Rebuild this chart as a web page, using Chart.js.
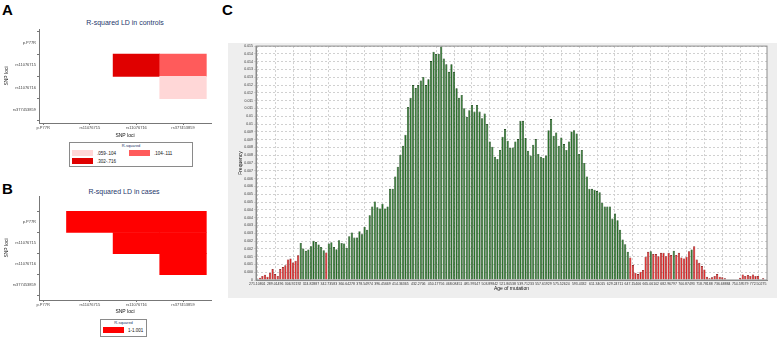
<!DOCTYPE html>
<html>
<head>
<meta charset="utf-8">
<script src="https://cdn.jsdelivr.net/npm/chart.js@4"></script>
<style>
  body { margin: 0; width: 777px; height: 337px; background: #fff; position: relative; overflow: hidden;
         font-family: Arial, "Liberation Sans", sans-serif; }
  .abs { position: absolute; white-space: nowrap; }
  .letra { font-weight: bold; font-size: 15px; line-height: 15px; color: #000; }
  .titulo { font-size: 7px; line-height: 7px; color: #26386b; text-align: center; width: 180px; }
  .caixa { border: 1px solid #8a8a8a; box-sizing: border-box; background: #fff; }
  .rq { font-size: 4px; line-height: 4px; color: #26386b; text-align: center; }
  .item { font-size: 4.5px; line-height: 5px; color: #111; }
  #ageChart { background: #eeeeee; }
</style>
</head>
<body>

<div class="abs letra" style="left:2px; top:2px;">A</div>
<div class="abs letra" style="left:2px; top:181px;">B</div>
<div class="abs letra" style="left:222px; top:2px;">C</div>

<div class="abs titulo" style="left:35px; top:19px;">R-squared LD in controls</div>
<div class="abs titulo" style="left:34px; top:188px;">R-squared LD in cases</div>

<canvas id="ctrlChart" class="abs" style="left:0; top:0;" width="225" height="145"></canvas>
<canvas id="caseChart" class="abs" style="left:0; top:170px;" width="225" height="150"></canvas>
<canvas id="ageChart" class="abs" style="left:228px; top:43px;" width="549" height="255"></canvas>

<div id="legCtrl"></div>
<div id="legCase"></div>

<script>
// Locos SNP (mesma ordem nos dois eixos)
const snpLoci = ['p.P77R', 'rs11076715', 'rs11076716', 'rs377453859'];

// LD nos controles: linha, coluna e faixa de R-squared de cada célula
const ctrlRow = [1, 1, 2];
const ctrlCol = [2, 3, 3];
const ctrlBin = [2, 1, 0];
const ctrlBinLabels = ['.059-.104', '.104-.111', '.302-.716'];
const ctrlBinColors = ['#ffd7d7', '#ff5b5b', '#e00000'];

// LD nos casos
const caseRow = [0, 0, 0, 1, 1, 2];
const caseCol = [1, 2, 3, 2, 3, 3];
const caseBin = [0, 0, 0, 0, 0, 0];
const caseBinLabels = ['1-1.001'];
const caseBinColors = ['#ff0000'];

// Idade da mutação: rótulos visíveis (um a cada 7 classes)
const ageTicks = ['271.10801', '289.01496', '306.92192', '324.82887', '342.73583', '360.64278',
  '378.54974', '396.45669', '414.36365', '432.2706', '450.17756', '468.08451', '485.99147',
  '503.89842', '521.80538', '539.71233', '557.61929', '575.52624', '593.4332', '611.34015',
  '629.24711', '647.15406', '665.06102', '682.96797', '700.87493', '718.78188', '736.68884',
  '754.59579', '772.50275'];

// Frequência de cada classe (200 classes)
const ageFreq = [
  0.00004, 0.00015, 0.00026, 0.00034, 0.00021, 0.00047, 0.00070, 0.00038, 0.00026, 0.00070,
  0.00083, 0.00094, 0.00132, 0.00138, 0.00113, 0.00123, 0.00158, 0.00238, 0.00202, 0.00187,
  0.00196, 0.00217, 0.00251, 0.00244, 0.00228, 0.00212, 0.00191, 0.00177, 0.00234, 0.00242,
  0.00212, 0.00198, 0.00255, 0.00238, 0.00234, 0.00206, 0.00281, 0.00304, 0.00272, 0.00272,
  0.00313, 0.00293, 0.00340, 0.00323, 0.00415, 0.00472, 0.00504, 0.00466, 0.00459, 0.00489,
  0.00459, 0.00472, 0.00585, 0.00585, 0.00664, 0.00727, 0.00804, 0.00861, 0.00931, 0.01110,
  0.01168, 0.01250, 0.01231, 0.01250, 0.01280, 0.01302, 0.01250, 0.01287, 0.01404, 0.01463,
  0.01450, 0.01450, 0.01497, 0.01421, 0.01383, 0.01335, 0.01383, 0.01335, 0.01229, 0.01169,
  0.01187, 0.01102, 0.01046, 0.01089, 0.01123, 0.01080, 0.01123, 0.01080, 0.01038, 0.01067,
  0.01000, 0.00889, 0.00855, 0.00791, 0.00776, 0.00834, 0.00919, 0.00968, 0.00893, 0.00847,
  0.00850, 0.00889, 0.00904, 0.01021, 0.01021, 0.00910, 0.00829, 0.00798, 0.00868, 0.00904,
  0.00808, 0.00791, 0.00783, 0.00798, 0.00961, 0.01032, 0.00925, 0.00946, 0.00861, 0.00914,
  0.00872, 0.00834, 0.00889, 0.00953, 0.00961, 0.00940, 0.00808, 0.00834, 0.00751, 0.00664,
  0.00585, 0.00585, 0.00579, 0.00570, 0.00563, 0.00496, 0.00472, 0.00472, 0.00472, 0.00394,
  0.00426, 0.00383, 0.00323, 0.00260, 0.00230, 0.00181, 0.00145, 0.00096, 0.00047, 0.00038,
  0.00053, 0.00064, 0.00149, 0.00181, 0.00185, 0.00166, 0.00166, 0.00153, 0.00174, 0.00174,
  0.00153, 0.00174, 0.00160, 0.00187, 0.00160, 0.00174, 0.00145, 0.00138, 0.00149, 0.00185,
  0.00196, 0.00217, 0.00132, 0.00110, 0.00089, 0.00068, 0.00021, 0.00011, 0.00017, 0.00026,
  0.00038, 0.00021, 0.00017, 0.00011, 0, 0, 0, 0, 0.00004, 0.00015,
  0.00036, 0.00026, 0.00032, 0.00026, 0.00036, 0.00026, 0.00026, 0.00004, 0.00011, 0
];

// Classes destacadas em vermelho (intervalos de índices)
const redRanges = [[0, 16], [27, 27], [146, 153], [155, 162], [164, 169], [171, 199]];

const ageBins = ageFreq.map((_, i) => i);
const isRed = i => redRanges.some(r => i >= r[0] && i <= r[1]);

// Mapas de LD (barras flutuantes em eixos lineares)
function ldChart(id, rows, cols, bins, colors, opt) {
  const cells = rows.map((r, i) => ({ x: [cols[i] - 0.5, cols[i] + 0.5], y: r }));
  return new Chart(document.getElementById(id), {
    type: 'bar',
    data: {
      datasets: [{
        data: cells,
        backgroundColor: bins.map(b => colors[b]),
        borderWidth: 0,
        barPercentage: 1,
        categoryPercentage: 1
      }]
    },
    options: {
      indexAxis: 'y',
      responsive: false,
      animation: false,
      layout: { padding: { top: opt.top, right: 14, left: 0, bottom: 0 } },
      plugins: { legend: { display: false }, tooltip: { enabled: false } },
      scales: {
        x: {
          type: 'linear',
          position: 'bottom',
          min: -0.09,
          max: 3.6,
          afterFit: s => { s.height = opt.xh; },
          border: { color: '#777' },
          grid: { drawOnChartArea: false, tickLength: 2, color: '#777' },
          ticks: {
            stepSize: 1, includeBounds: false, autoSkip: false, maxRotation: 0, padding: 0.5,
            color: '#444', font: { size: 4 },
            callback: v => snpLoci[v] ?? null
          },
          title: { display: true, text: 'SNP loci', color: '#111', font: { size: 5 },
                   padding: { top: 0, bottom: opt.tb } }
        },
        y: {
          type: 'linear',
          reverse: true,
          min: opt.ymin,
          max: opt.ymax,
          afterFit: s => { s.width = 39; },
          border: { color: '#777' },
          grid: { drawOnChartArea: false, tickLength: 2, color: '#777' },
          ticks: {
            stepSize: 1, includeBounds: false, autoSkip: false, padding: 1,
            color: '#444', font: { size: 4 },
            callback: v => snpLoci[v] ?? null
          },
          title: { display: true, text: 'SNP loci', color: '#111', font: { size: 5 },
                   padding: { top: 4, bottom: 0 } }
        }
      }
    }
  });
}

ldChart('ctrlChart', ctrlRow, ctrlCol, ctrlBin, ctrlBinColors, { top: 29, xh: 22, tb: 6, ymin: -0.1, ymax: 3.07 });
ldChart('caseChart', caseRow, caseCol, caseBin, caseBinColors, { top: 26, xh: 20, tb: 5.3, ymin: -0.615, ymax: 3.08 });

// Legendas dos mapas
function legenda(el, box, labels, colors, slots) {
  let html = `<div class="abs caixa" style="left:${box[0]}px; top:${box[1]}px; width:${box[2]}px; height:${box[3]}px;"></div>`;
  html += `<div class="abs rq" style="left:${box[0]}px; top:${box[1] + 1.5}px; width:${box[2]}px;">R-squared</div>`;
  labels.forEach((t, i) => {
    const [x, y] = slots[i];
    html += `<div class="abs" style="left:${x}px; top:${y}px; width:21px; height:6px; background:${colors[i]};"></div>`;
    html += `<div class="abs item" style="left:${x + 25}px; top:${y + 0.5}px;">${t}</div>`;
  });
  document.getElementById(el).innerHTML = html;
}
legenda('legCtrl', [69, 142, 124, 25], ctrlBinLabels, ctrlBinColors, [[72, 150], [129, 150], [72, 158]]);
legenda('legCase', [100, 319, 47, 18], caseBinLabels, caseBinColors, [[103, 327]]);

// Fundo branco e moldura da área do gráfico
const moldura = {
  id: 'moldura',
  beforeDraw(chart) {
    const { ctx, chartArea: a } = chart;
    ctx.save();
    ctx.fillStyle = '#fff';
    ctx.fillRect(a.left, a.top, a.width, a.height);
    ctx.restore();
  },
  afterDraw(chart) {
    const { ctx, chartArea: a } = chart;
    ctx.save();
    ctx.strokeStyle = '#8c8c8c';
    ctx.lineWidth = 1;
    ctx.strokeRect(a.left, a.top, a.width, a.height);
    ctx.restore();
  }
};

// Histograma da idade da mutação
new Chart(document.getElementById('ageChart'), {
  type: 'bar',
  data: {
    labels: ageBins,
    datasets: [{
      data: ageFreq,
      backgroundColor: ageBins.map(i => isRed(i) ? '#dc1a1a' : '#1d6a1d'),
      borderColor: ageBins.map(i => isRed(i) ? '#7a0a0a' : '#0a340a'),
      borderWidth: 0.6,
      barPercentage: 0.85,
      categoryPercentage: 1
    }]
  },
  options: {
    responsive: false,
    animation: false,
    layout: { padding: { top: 2, right: 10, left: 0, bottom: 0 } },
    plugins: { legend: { display: false }, tooltip: { enabled: false } },
    scales: {
      x: {
        afterFit: s => { s.height = 18; },
        border: { color: '#888', dash: [2, 2] },
        grid: { offset: false, color: '#d0d0d0', drawTicks: false },
        ticks: {
          autoSkip: false, maxRotation: 0, minRotation: 0, padding: 1.5,
          color: '#333', font: { size: 3.5 },
          callback: (v, i) => i % 7 === 0 ? ageTicks[i / 7] : null
        },
        title: { display: true, text: 'Age of mutation', color: '#111', font: { size: 5 },
                 padding: { top: 0, bottom: 6 } }
      },
      y: {
        min: 0,
        max: 0.015,
        afterFit: s => { s.width = 28; },
        border: { color: '#888', dash: [2, 2] },
        grid: { color: '#d0d0d0', tickLength: 2 },
        ticks: {
          stepSize: 0.0005, maxTicksLimit: 40, autoSkip: false, padding: 1,
          color: '#333', font: { size: 3.5 },
          callback: v => {
            if (v === 0) return '0';
            const t = Math.floor(v * 1000 + 1e-6) / 1000;
            return t === 0 ? '0.000' : String(t);
          }
        },
        title: { display: true, text: 'Frequency', color: '#111', font: { size: 5 },
                 padding: { top: 10, bottom: 0 } }
      }
    }
  },
  plugins: [moldura]
});
</script>
</body>
</html>
